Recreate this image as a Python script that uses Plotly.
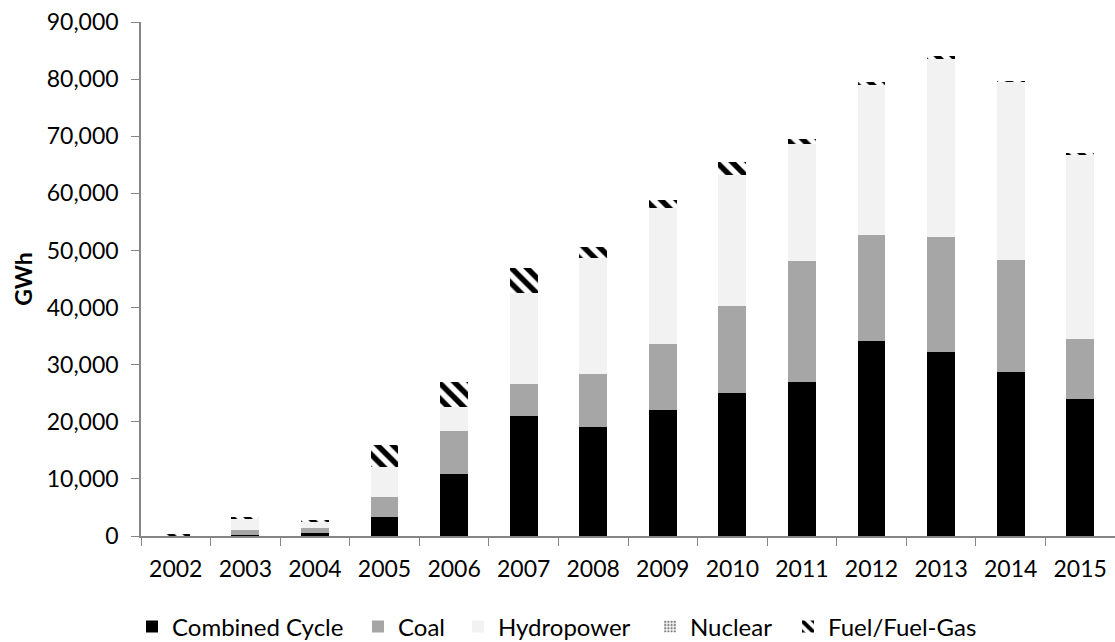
import plotly.graph_objects as go

years = ["2002", "2003", "2004", "2005", "2006", "2007", "2008", "2009",
         "2010", "2011", "2012", "2013", "2014", "2015"]
combined_cycle = [0, 150, 470, 3350, 10850, 21100, 19100, 22100, 25000, 26900, 34200, 32200, 28700, 24000]
coal = [0, 900, 880, 3500, 7550, 5500, 9300, 11600, 15200, 21200, 18500, 20100, 19600, 10500]
hydropower = [150, 2000, 1120, 5300, 4200, 16000, 20300, 23800, 23000, 20600, 26200, 31200, 31200, 32300]
nuclear = [0, 0, 0, 0, 0, 0, 0, 0, 0, 0, 0, 0, 0, 0]
fuel_gas = [50, 200, 200, 3800, 4400, 4300, 1900, 1300, 2200, 800, 600, 600, 100, 100]

fig = go.Figure()
fig.add_trace(go.Bar(x=years, y=combined_cycle, name="Combined Cycle", legend="legend",
                     marker=dict(color="#000000", line=dict(width=0))))
fig.add_trace(go.Bar(x=years, y=coal, name="Coal", legend="legend2",
                     marker=dict(color="#A6A6A6", line=dict(width=0))))
fig.add_trace(go.Bar(x=years, y=hydropower, name="Hydropower", legend="legend3",
                     marker=dict(color="#F2F2F2", line=dict(width=0))))
fig.add_trace(go.Bar(x=years, y=nuclear, name="Nuclear", legend="legend4",
                     marker=dict(color="#FFFFFF", line=dict(width=0),
                                 pattern=dict(shape=".", fgcolor="#7F7F7F", bgcolor="#FFFFFF",
                                              size=4, solidity=0.45, fgopacity=1))))
fig.add_trace(go.Bar(x=years, y=fuel_gas, name="Fuel/Fuel-Gas", legend="legend5",
                     marker=dict(color="#FFFFFF", line=dict(width=0),
                                 pattern=dict(shape="\\", fgcolor="#000000", bgcolor="#FFFFFF",
                                              size=11, solidity=0.5, fgopacity=1))))


def leg(xpx):
    return dict(orientation="h", xref="container", yref="container",
                x=xpx / 1115, y=(642 - 627) / 642, xanchor="left", yanchor="middle",
                font=dict(family="Lato", size=24, color="#000000"),
                itemwidth=30, bgcolor="rgba(0,0,0,0)")


fig.update_layout(
    barmode="stack",
    bargap=0.6,
    width=1115, height=642,
    margin=dict(l=141, r=0, t=22, b=106),
    paper_bgcolor="white", plot_bgcolor="white",
    font=dict(family="Lato", size=23, color="#000000"),
    showlegend=True,
    legend=leg(132), legend2=leg(358), legend3=leg(458), legend4=leg(650), legend5=leg(788),
    xaxis=dict(showline=True, linecolor="#868686", linewidth=1.5,
               ticks="outside", tickson="boundaries", ticklen=8, tickcolor="#868686",
               showgrid=False, tickfont=dict(size=23), ticklabelstandoff=12),
    yaxis=dict(range=[0, 90000], dtick=10000, tickformat=",d",
               showline=True, linecolor="#868686", linewidth=1.5,
               ticks="outside", ticklen=8, tickcolor="#868686",
               showgrid=False, zeroline=False, tickfont=dict(size=23), ticklabelstandoff=8,
               title=dict(text="<b>GWh</b>", font=dict(size=23), standoff=8)),
)

fig.write_html("out.html")
